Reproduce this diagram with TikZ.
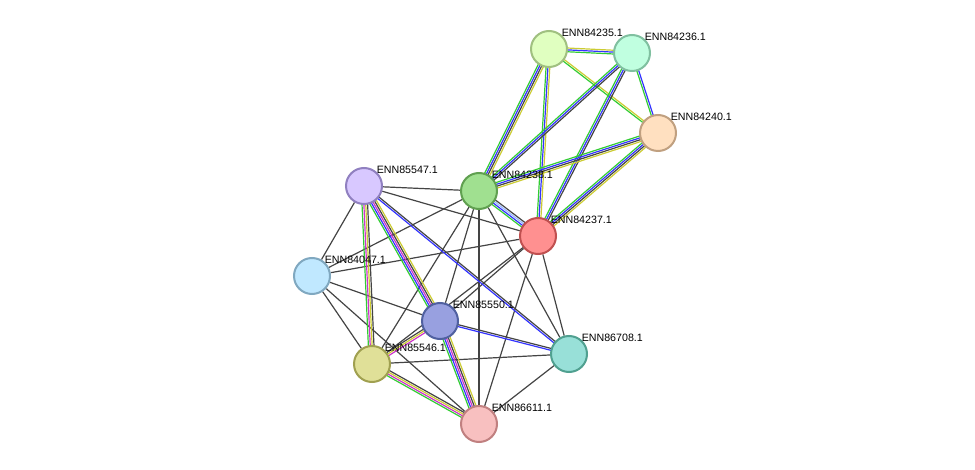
\documentclass[tikz,border=0pt]{standalone}
\usepackage{fontspec}
\setmainfont{Liberation Sans}
\usetikzlibrary{calc,backgrounds}
\definecolor{sgreen}{HTML}{33CC33}
\definecolor{sblue}{HTML}{3333FF}
\definecolor{syellow}{HTML}{CCCC33}
\definecolor{smag}{HTML}{CC33CC}
\definecolor{slblue}{HTML}{99BBFF}
\definecolor{sblack}{HTML}{444444}
\definecolor{fA}{HTML}{E0FFC0}\definecolor{dA}{HTML}{A0C080}
\definecolor{fB}{HTML}{C0FFE0}\definecolor{dB}{HTML}{80C0A0}
\definecolor{fC}{HTML}{FFE0C0}\definecolor{dC}{HTML}{C0A080}
\definecolor{fD}{HTML}{D8C8FF}\definecolor{dD}{HTML}{9080C0}
\definecolor{fE}{HTML}{A0E090}\definecolor{dE}{HTML}{60A050}
\definecolor{fF}{HTML}{FF9090}\definecolor{dF}{HTML}{C05050}
\definecolor{fG}{HTML}{C0E8FF}\definecolor{dG}{HTML}{80A8C0}
\definecolor{fH}{HTML}{98A0E0}\definecolor{dH}{HTML}{5060A0}
\definecolor{fI}{HTML}{98E0D8}\definecolor{dI}{HTML}{50A090}
\definecolor{fJ}{HTML}{E0E098}\definecolor{dJ}{HTML}{A0A050}
\definecolor{fK}{HTML}{F8C0C0}\definecolor{dK}{HTML}{C08080}
\tikzset{
  prot/.style n args={3}{circle, minimum size=27pt, inner sep=0pt, line width=1.5pt,
    draw=#2, fill=#1,
    label={[anchor=south west, inner sep=0pt, font=\footnotesize, label distance=-1pt]45:#3}},
}
% multi coloured edge: \mline{a}{b}{c1,c2,...}{n}
\newcommand{\mline}[4]{%
  \foreach \c [count=\i] in {#3}
    \draw[\c, line width=0.9pt]
      ($(#1)!{(\i-(#4+1)/2)*1.4pt}!90:(#2)$) --
      ($(#2)!{((#4+1)/2-\i)*1.4pt}!90:(#1)$);}
\begin{document}
\begin{tikzpicture}[x=0.75pt, y=-0.75pt]
\useasboundingbox (0,0) rectangle (975,470);

\node[prot={fA}{dA}{ENN84235.1}] (p84235) at (549,49) {};
\node[prot={fB}{dB}{ENN84236.1}] (p84236) at (632,53) {};
\node[prot={fC}{dC}{ENN84240.1}] (p84240) at (658,133) {};
\node[prot={fD}{dD}{ENN85547.1}] (p85547) at (364,186) {};
\node[prot={fE}{dE}{ENN84238.1}] (p84238) at (479,191) {};
\node[prot={fF}{dF}{ENN84237.1}] (p84237) at (538,236) {};
\node[prot={fG}{dG}{ENN84047.1}] (p84047) at (312,276) {};
\node[prot={fH}{dH}{ENN85550.1}] (p85550) at (440,321) {};
\node[prot={fI}{dI}{ENN86708.1}] (p86708) at (569,354) {};
\node[prot={fJ}{dJ}{ENN85546.1}] (p85546) at (372,364) {};
\node[prot={fK}{dK}{ENN86611.1}] (p86611) at (479,424) {};

\begin{scope}[on background layer]
% black only
\foreach \a/\b in {p85547/p84238, p85547/p84237, p85547/p84047,
    p84238/p84047, p84238/p85546, p84238/p86708, p84238/p86611, p84238/p85550,
    p84237/p84047, p84237/p85550, p84237/p85546, p84237/p86708, p84237/p86611,
    p84047/p85550, p84047/p85546, p84047/p86611, p85546/p86708, p86708/p86611}
  \draw[sblack, line width=0.9pt] (\a) -- (\b);
% coloured
\mline{p84235}{p84236}{sgreen,sblue,syellow}{3}
\mline{p84235}{p84238}{sgreen,sblue,sblack,syellow}{4}
\mline{p84235}{p84237}{sgreen,sblue,syellow}{3}
\mline{p84235}{p84240}{sgreen,syellow}{2}
\mline{p84236}{p84238}{sgreen,sblue,sblack}{3}
\mline{p84236}{p84237}{sgreen,sblue,sblack}{3}
\mline{p84236}{p84240}{sgreen,sblue}{2}
\mline{p84240}{p84238}{sgreen,sblue,sblack,syellow}{4}
\mline{p84240}{p84237}{sgreen,sblue,sblack,syellow}{4}
\mline{p84238}{p84237}{sgreen,sblue,slblue,sblack}{4}
\mline{p85547}{p85550}{sgreen,sblue,smag,sblack,syellow}{5}
\mline{p85547}{p85546}{sgreen,smag,syellow,sblack}{4}
\mline{p85547}{p86708}{sblue,sblack}{2}
\mline{p85550}{p86708}{sblue,sblack}{2}
\mline{p85550}{p86611}{sgreen,sblue,smag,sblack,syellow}{5}
\mline{p85546}{p86611}{sgreen,smag,syellow,sblack}{4}
\mline{p85546}{p85550}{smag,syellow,sblack}{3}
\end{scope}
\end{tikzpicture}
\end{document}
